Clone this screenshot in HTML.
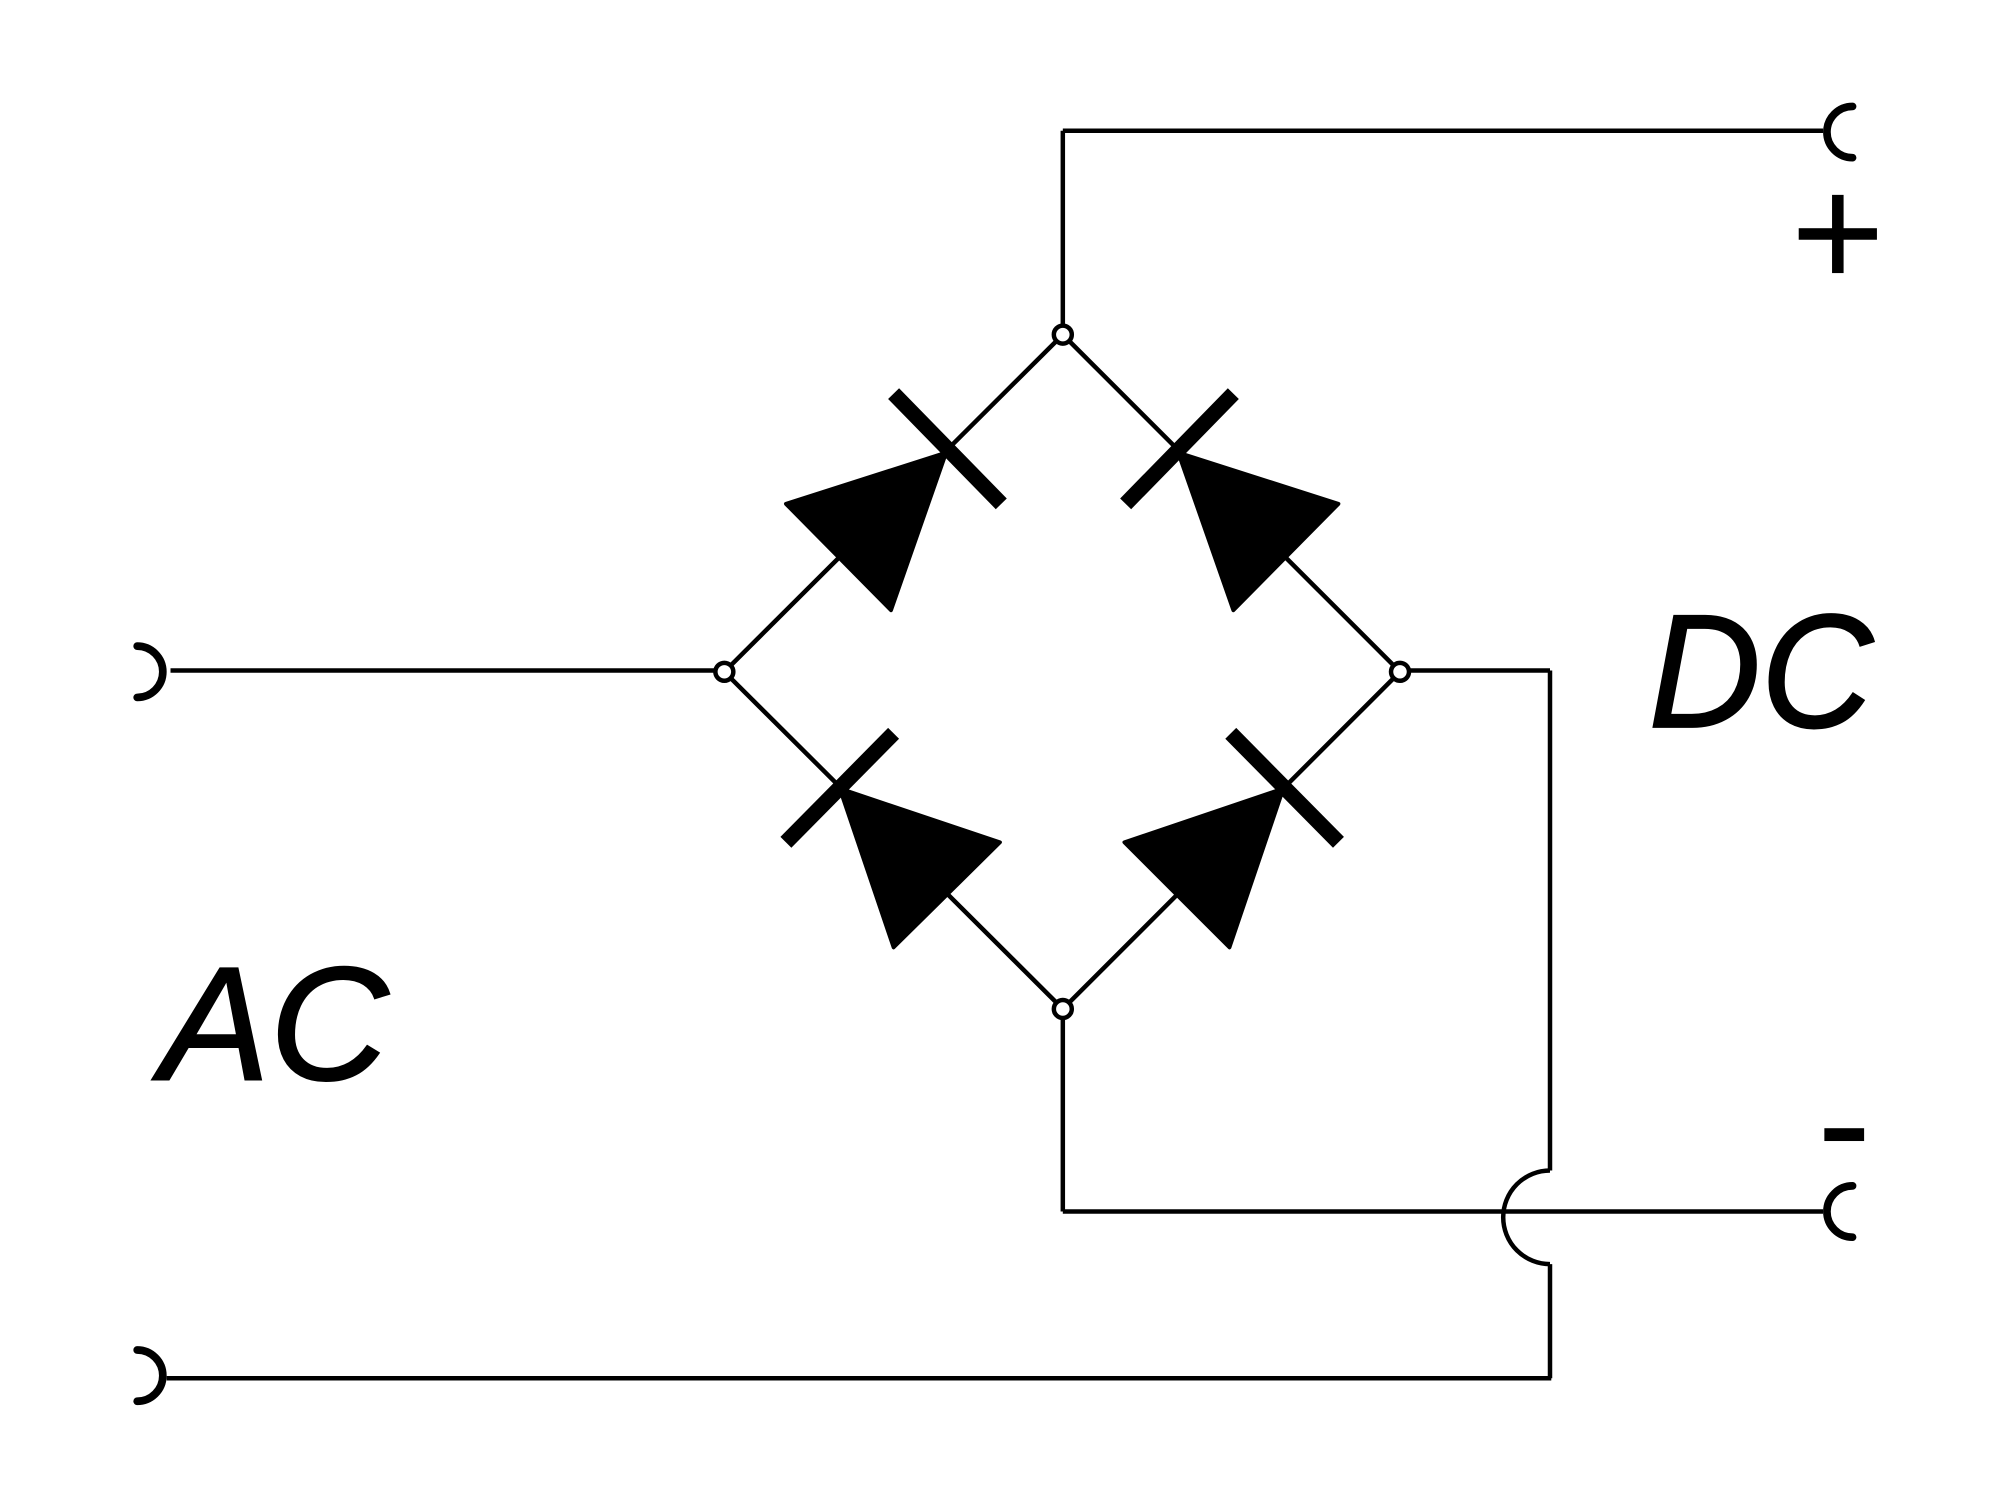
<!DOCTYPE html>
<html><head><meta charset="utf-8"><style>
html,body{margin:0;padding:0;background:#fff;}
svg{display:block;}
</style></head><body>
<svg width="2000" height="1500" viewBox="0 0 1560 1170" xmlns="http://www.w3.org/2000/svg">
<g stroke="#000" stroke-width="3.5" fill="none">
<line x1="829" y1="254" x2="829" y2="102"/>
<line x1="829" y1="102" x2="1422" y2="102"/>
<line x1="829" y1="261" x2="565" y2="524"/>
<line x1="829" y1="261" x2="1092" y2="524"/>
<line x1="565" y1="524" x2="829" y2="787"/>
<line x1="1092" y1="524" x2="829" y2="787"/>
<line x1="133" y1="523" x2="558" y2="523"/>
<line x1="130" y1="1075" x2="1210" y2="1075"/>
<line x1="1209" y1="1075" x2="1209" y2="986"/>
<line x1="1099" y1="523" x2="1209" y2="523"/>
<line x1="1209" y1="523" x2="1209" y2="913"/>
<path d="M1209,913 A36.5,36.5 0 0 0 1209,986"/>
<line x1="829" y1="795" x2="829" y2="945"/>
<line x1="829" y1="945" x2="1422" y2="945"/>
</g>
<g stroke="#000" stroke-width="6" fill="none" stroke-linecap="round">
<path d="M1445,83 A20,20 0 0 0 1445,123"/>
<path d="M1445,925 A20,20 0 0 0 1445,965"/>
<path d="M107,504 A20,20 0 0 1 107,544"/>
<path d="M107,1053 A20,20 0 0 1 107,1093"/>
</g>
<g fill="#000" stroke="#000" stroke-width="3" stroke-linejoin="round">
<polygon points="613,393 695,476 738,353"/>
<polygon points="1044,393 962,476 919,353"/>
<polygon points="655,615 780,657 697,739"/>
<polygon points="1001,615 877,657 959,739"/>
</g>
<g stroke="#000" stroke-width="12">
<line x1="697" y1="307" x2="781" y2="393"/>
<line x1="878" y1="393" x2="962" y2="307"/>
<line x1="613" y1="657" x2="697" y2="572"/>
<line x1="960" y1="572" x2="1044" y2="657"/>
</g>
<g fill="#fff" stroke="#000" stroke-width="3.5">
<circle cx="829" cy="261" r="7"/>
<circle cx="565" cy="524" r="7"/>
<circle cx="1092" cy="524" r="7"/>
<circle cx="829" cy="787" r="7"/>
</g>
<rect x="1429" y="152" width="9" height="61" fill="#000"/>
<rect x="1403" y="178" width="61" height="9" fill="#000"/>
<rect x="1423" y="880" width="31" height="10" fill="#000"/>
<text x="1286" y="567" font-family="Liberation Sans, sans-serif" font-style="italic" font-size="126" fill="#000" stroke="#000" stroke-width="1.5" textLength="175" lengthAdjust="spacingAndGlyphs">DC</text>
<text x="125" y="842" font-family="Liberation Sans, sans-serif" font-style="italic" font-size="126" fill="#000" stroke="#000" stroke-width="1.5" textLength="178" lengthAdjust="spacingAndGlyphs">AC</text>
</svg>
</body></html>
